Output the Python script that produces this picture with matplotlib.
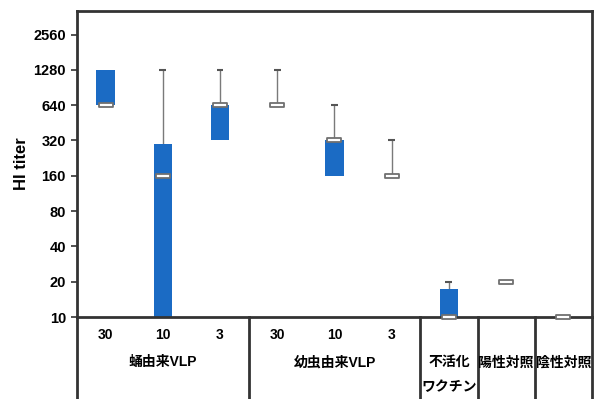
import numpy as np
import matplotlib
matplotlib.use('Agg')
import matplotlib.pyplot as plt
from matplotlib.path import Path

plt.rcParams['font.family'] = ['Liberation Sans', 'Noto Sans CJK JP']
plt.rcParams['font.weight'] = 'bold'

# ---- data ----
dose_labels = ['30', '10', '3', '30', '10', '3']
group_labels = ['蛹由来VLP', '幼虫由来VLP', '不活化\nワクチン', '陽性対照', '陰性対照']
group_centers = [1, 4, 6, 7, 8]
q1 = [640, 10, 320, 640, 160, 160, 10, 20, 10]
q3 = [1280, 300, 640, 640, 320, 160, 17.5, 20, 10]
med = [640, 160, 640, 640, 320, 160, 10, 20, 10]
maxv = [1280, 1280, 1280, 1280, 640, 320, 20, 20, 10]
yticks = [10, 20, 40, 80, 160, 320, 640, 1280, 2560]
separators = [2.5, 5.5, 6.5, 7.5]

blue = '#1b6bc4'
edge = '#333333'
x = np.arange(len(med))

fig = plt.figure(figsize=(5.97, 3.99), dpi=100)
ax = fig.add_axes([0.129, 0.2055, 0.8625, 0.767])
ax.set_yscale('log', base=2)
ax.set_ylim(10, 4070)
ax.set_xlim(-0.5, 8.5)

# boxes
heights = np.array(q3) - np.array(q1)
ax.bar(x, heights, bottom=q1, width=0.32, color=blue, zorder=2)

# whiskers
for xi, top, mx in zip(x, q3, maxv):
    if mx > top:
        ax.vlines(xi, top, mx, color='#7a7a7a', lw=1.0, zorder=1)
        ax.hlines(mx, xi - 0.06, xi + 0.06, color='#555555', lw=1.5, zorder=1)

# median markers (flat bars)
rect = Path([(-1, -0.3), (1, -0.3), (1, 0.3), (-1, 0.3), (-1, -0.3)],
            [Path.MOVETO, Path.LINETO, Path.LINETO, Path.LINETO, Path.CLOSEPOLY])
ax.plot(x, med, ls='none', marker=rect, ms=10, mfc='white', mec='#707070',
        mew=1.3, zorder=4, clip_on=False)

# axes styling
for s in ax.spines.values():
    s.set_linewidth(2)
    s.set_color(edge)
ax.set_yticks(yticks)
ax.set_yticklabels([str(v) for v in yticks])
ax.minorticks_off()
ax.tick_params(axis='y', length=4, width=1.2, color=edge, labelsize=10.5, pad=4)
ax.set_xticks(x[:6])
ax.set_xticklabels(dose_labels)
ax.tick_params(axis='x', length=0, labelsize=10, pad=8)
ax.set_ylabel('HI titer', fontsize=12, fontweight='bold', labelpad=3)

# category table under the axis
tr = ax.get_xaxis_transform()
for xs in [-0.5] + separators + [8.5]:
    ax.plot([xs, xs], [0, -0.27], transform=tr, color=edge, lw=2, clip_on=False)
for cx, lab in zip(group_centers, group_labels):
    if '\n' in lab:
        l1, l2 = lab.split('\n')
        ax.text(cx, -0.148, l1, transform=tr, ha='center', va='center', fontsize=10)
        ax.text(cx, -0.228, l2, transform=tr, ha='center', va='center', fontsize=10)
    else:
        ax.text(cx, -0.148, lab, transform=tr, ha='center', va='center', fontsize=10)

fig.savefig('out.png', dpi=100)
